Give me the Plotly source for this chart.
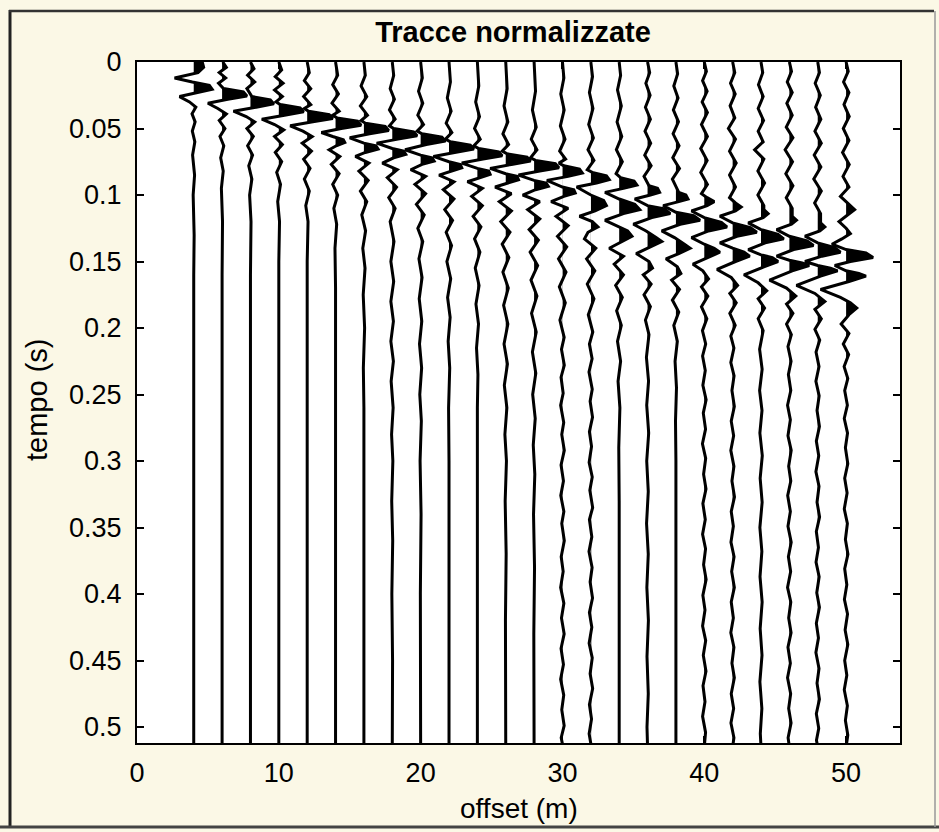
import plotly.graph_objects as go

# ---------------- data ----------------
OFFSETS = [4, 6, 8, 10, 12, 14, 16, 18, 20, 22, 24, 26, 28, 30, 32, 34, 36, 38, 40, 42, 44, 46, 48, 50]

TR04 = [(0.000, 0.60), (0.004, 0.70), (0.008, 0.30), (0.012, -1.35), (0.015, -0.10), (0.0175, 1.10), (0.0205, 1.30),
        (0.023, 0.30), (0.026, -1.00), (0.030, -0.30), (0.034, 0.15), (0.039, -0.12), (0.045, 0.10), (0.052, -0.10),
        (0.060, 0.08), (0.070, -0.08), (0.085, 0.06), (0.100, -0.04), (0.130, 0.03), (0.160, 0.00), (0.515, 0.00)]
TR06 = [(0.000, 0.05), (0.004, 0.30), (0.008, -0.20), (0.012, 0.25), (0.016, -0.25), (0.020, 0.10), (0.0225, 1.50),
        (0.0255, 1.75), (0.028, 0.40), (0.031, -1.00), (0.035, -0.30), (0.039, 0.30), (0.044, -0.20), (0.050, 0.20),
        (0.056, -0.15), (0.063, 0.12), (0.072, -0.10), (0.082, 0.08), (0.095, -0.05), (0.120, 0.03), (0.160, 0.00),
        (0.515, 0.00)]
TR08 = [(0.000, 0.00), (0.005, 0.25), (0.010, -0.20), (0.015, 0.30), (0.020, -0.25), (0.026, 0.10), (0.0285, 1.40),
        (0.0315, 1.65), (0.034, 0.40), (0.037, -1.20), (0.041, -0.30), (0.045, 0.30), (0.050, -0.25), (0.056, 0.20),
        (0.063, -0.20), (0.070, 0.15), (0.078, -0.12), (0.088, 0.10), (0.100, -0.06), (0.120, 0.04), (0.160, 0.00),
        (0.515, 0.00)]
TR10 = [(0.000, 0.00), (0.006, 0.20), (0.011, -0.25), (0.016, 0.30), (0.021, -0.30), (0.026, 0.25), (0.030, -0.20),
        (0.032, 0.10), (0.0345, 1.50), (0.0375, 1.75), (0.040, 0.40), (0.043, -1.20), (0.047, -0.30), (0.051, 0.35),
        (0.056, -0.30), (0.062, 0.25), (0.068, -0.25), (0.075, 0.20), (0.083, -0.15), (0.092, 0.12), (0.105, -0.08),
        (0.120, 0.05), (0.150, 0.00), (0.515, 0.00)]
TR12 = [(0.000, 0.00), (0.008, 0.15), (0.014, -0.20), (0.020, 0.25), (0.026, -0.25), (0.032, 0.25), (0.035, -0.20),
        (0.037, 0.10), (0.0395, 1.55), (0.0425, 1.80), (0.045, 0.40), (0.048, -1.20), (0.052, -0.30), (0.056, 0.35),
        (0.061, -0.35), (0.067, 0.30), (0.073, -0.25), (0.080, 0.20), (0.088, -0.20), (0.097, 0.15), (0.108, -0.10),
        (0.120, 0.06), (0.150, 0.00), (0.515, 0.00)]
TR14 = [(0.000, 0.00), (0.010, 0.15), (0.017, -0.20), (0.024, 0.20), (0.031, -0.25), (0.037, 0.25), (0.040, -0.20),
        (0.042, 0.10), (0.0445, 1.55), (0.0475, 1.80), (0.050, 0.40), (0.053, -1.00), (0.056, -0.20), (0.0585, 0.55),
        (0.0605, 0.65), (0.063, 0.05), (0.066, -0.45), (0.071, 0.30), (0.077, -0.30), (0.084, 0.25), (0.092, -0.20),
        (0.100, 0.15), (0.110, -0.12), (0.122, 0.08), (0.140, -0.04), (0.170, 0.00), (0.515, 0.00)]
TR16 = [(0.000, 0.00), (0.010, 0.10), (0.018, -0.20), (0.026, 0.20), (0.033, -0.25), (0.040, 0.25), (0.044, -0.20),
        (0.046, 0.10), (0.0485, 1.50), (0.0515, 1.75), (0.054, 0.40), (0.057, -1.00), (0.061, 0.00), (0.063, 0.85),
        (0.0655, 1.00), (0.068, 0.10), (0.071, -0.60), (0.076, 0.35), (0.082, -0.35), (0.089, 0.30), (0.097, -0.25),
        (0.105, 0.20), (0.115, -0.15), (0.127, 0.12), (0.140, -0.08), (0.155, 0.08), (0.175, -0.05), (0.200, 0.05),
        (0.230, -0.04), (0.260, 0.00), (0.515, 0.00)]
TR18 = [(0.000, 0.00), (0.010, 0.10), (0.020, -0.15), (0.028, 0.15), (0.036, -0.20), (0.043, 0.20), (0.048, -0.20),
        (0.050, 0.10), (0.0525, 1.50), (0.0555, 1.75), (0.058, 0.40), (0.061, -1.10), (0.065, 0.00), (0.067, 0.80),
        (0.0695, 0.95), (0.072, 0.10), (0.076, -0.70), (0.081, 0.35), (0.087, -0.35), (0.094, 0.30), (0.102, -0.25),
        (0.110, 0.20), (0.120, -0.15), (0.135, 0.12), (0.150, -0.10), (0.165, 0.10), (0.180, -0.10), (0.195, 0.08),
        (0.210, -0.10), (0.225, 0.08), (0.240, -0.08), (0.260, 0.06), (0.280, -0.05), (0.300, 0.04), (0.330, -0.04),
        (0.360, 0.03), (0.400, -0.03), (0.450, 0.02), (0.515, 0.00)]
TR20 = [(0.000, 0.00), (0.012, 0.12), (0.022, -0.15), (0.031, 0.15), (0.040, -0.20), (0.047, 0.20), (0.052, -0.25),
        (0.054, 0.10), (0.0565, 1.50), (0.0595, 1.75), (0.062, 0.40), (0.066, -1.10), (0.070, 0.00), (0.072, 0.80),
        (0.0745, 0.95), (0.077, 0.10), (0.081, -0.70), (0.086, 0.35), (0.092, -0.40), (0.099, 0.35), (0.107, -0.30),
        (0.115, 0.25), (0.125, -0.20), (0.135, 0.15), (0.148, -0.12), (0.162, 0.10), (0.178, -0.10), (0.195, 0.08),
        (0.212, -0.08), (0.230, 0.07), (0.250, -0.06), (0.270, 0.05), (0.300, -0.04), (0.340, 0.03), (0.400, -0.02),
        (0.515, 0.00)]
TR22 = [(0.000, 0.00), (0.015, 0.10), (0.027, -0.12), (0.037, 0.15), (0.046, -0.20), (0.053, 0.20), (0.058, -0.25),
        (0.060, 0.10), (0.0625, 1.50), (0.0655, 1.75), (0.068, 0.40), (0.071, -1.10), (0.075, 0.00), (0.077, 0.80),
        (0.0795, 0.90), (0.082, 0.10), (0.085, -0.70), (0.090, 0.35), (0.096, -0.40), (0.103, 0.35), (0.111, -0.30),
        (0.119, 0.25), (0.128, -0.20), (0.138, 0.18), (0.150, -0.15), (0.163, 0.12), (0.177, -0.10), (0.192, 0.08),
        (0.210, -0.06), (0.230, 0.05), (0.260, -0.03), (0.300, 0.00), (0.515, 0.00)]
TR24 = [(0.000, 0.00), (0.018, 0.10), (0.030, -0.12), (0.041, 0.15), (0.050, -0.20), (0.058, 0.20), (0.063, -0.25),
        (0.065, 0.10), (0.0675, 1.50), (0.0705, 1.75), (0.073, 0.40), (0.076, -1.10), (0.080, 0.00), (0.082, 0.80),
        (0.0845, 0.90), (0.087, 0.10), (0.090, -0.70), (0.095, 0.35), (0.101, -0.40), (0.108, 0.35), (0.116, -0.30),
        (0.124, 0.25), (0.133, -0.20), (0.143, 0.18), (0.155, -0.15), (0.168, 0.12), (0.182, -0.10), (0.197, 0.08),
        (0.215, -0.06), (0.235, 0.04), (0.260, 0.00), (0.515, 0.00)]
TR26 = [(0.000, 0.00), (0.020, 0.10), (0.033, -0.12), (0.045, 0.15), (0.054, -0.20), (0.062, 0.20), (0.067, -0.25),
        (0.069, 0.10), (0.0715, 1.50), (0.0745, 1.75), (0.077, 0.40), (0.080, -1.10), (0.084, 0.00), (0.086, 0.80),
        (0.0885, 0.90), (0.091, 0.10), (0.094, -0.75), (0.099, 0.40), (0.105, -0.45), (0.112, 0.40), (0.120, -0.35),
        (0.128, 0.30), (0.137, -0.25), (0.147, 0.22), (0.158, -0.20), (0.170, 0.18), (0.183, -0.15), (0.197, 0.15),
        (0.212, -0.12), (0.227, 0.12), (0.243, -0.10), (0.260, 0.08), (0.280, -0.06), (0.300, 0.05), (0.330, -0.04),
        (0.370, 0.03), (0.420, -0.02), (0.515, 0.00)]
TR28 = [(0.000, 0.00), (0.022, 0.10), (0.036, -0.12), (0.049, 0.15), (0.058, -0.20), (0.066, 0.20), (0.072, -0.25),
        (0.074, 0.10), (0.0765, 1.50), (0.0795, 1.75), (0.082, 0.40), (0.085, -1.10), (0.089, 0.00), (0.091, 0.85),
        (0.0935, 1.00), (0.096, 0.10), (0.100, -0.80), (0.105, 0.40), (0.111, -0.45), (0.118, 0.40), (0.126, -0.35),
        (0.134, 0.30), (0.143, -0.28), (0.153, 0.25), (0.164, -0.22), (0.176, 0.20), (0.189, -0.18), (0.203, 0.15),
        (0.218, -0.12), (0.234, 0.12), (0.250, -0.10), (0.268, 0.08), (0.288, -0.06), (0.310, 0.05), (0.340, -0.04),
        (0.380, 0.03), (0.430, -0.02), (0.515, 0.00)]
TR30 = [(0.000, 0.00), (0.012, 0.10), (0.024, -0.12), (0.036, 0.12), (0.048, -0.15), (0.058, 0.18), (0.067, -0.20),
        (0.073, 0.22), (0.076, -0.25), (0.078, 0.10), (0.0805, 1.20), (0.0835, 1.40), (0.086, 0.40), (0.089, -1.10),
        (0.094, 0.00), (0.096, 0.80), (0.0985, 0.90), (0.101, 0.10), (0.105, -0.80), (0.110, 0.40), (0.116, -0.45),
        (0.123, 0.40), (0.131, -0.35), (0.139, 0.30), (0.148, -0.28), (0.158, 0.25), (0.169, -0.22), (0.181, 0.20),
        (0.194, -0.18),
        (0.207, 0.12), (0.216, -0.07), (0.228, 0.13), (0.237, -0.10), (0.249, 0.05), (0.258, -0.13), (0.271, 0.09),
        (0.280, -0.05), (0.292, 0.13), (0.303, -0.10), (0.315, 0.07), (0.326, -0.12), (0.338, 0.10), (0.347, -0.05),
        (0.360, 0.13), (0.372, -0.09), (0.383, 0.05), (0.395, -0.13), (0.407, 0.10), (0.418, -0.07), (0.430, 0.12),
        (0.441, -0.10), (0.453, 0.07), (0.464, -0.13), (0.476, 0.09), (0.487, -0.05), (0.499, 0.12), (0.508, -0.09),
        (0.515, 0.04)]
TR32 = [(0.000, 0.00), (0.011, 0.12), (0.023, -0.10), (0.035, 0.15), (0.047, -0.15), (0.057, 0.18), (0.066, -0.20),
        (0.074, 0.22), (0.081, -0.25), (0.083, 0.10), (0.0855, 1.10), (0.0885, 1.30), (0.091, 0.40), (0.094, -1.00),
        (0.100, 0.00), (0.104, 0.90), (0.108, 1.10), (0.112, 0.30), (0.116, -0.80), (0.120, 0.10), (0.124, 0.50),
        (0.128, -0.20), (0.133, -0.45), (0.140, 0.35), (0.148, -0.30), (0.157, 0.28), (0.167, -0.25), (0.178, 0.22),
        (0.190, -0.18), (0.203, 0.14),
        (0.212, -0.10), (0.223, 0.09), (0.233, -0.13), (0.246, 0.10), (0.255, -0.05), (0.267, 0.12), (0.278, -0.10),
        (0.289, 0.05), (0.301, -0.12), (0.312, 0.10), (0.322, -0.07), (0.335, 0.13), (0.344, -0.10), (0.357, 0.07),
        (0.368, -0.13), (0.380, 0.09), (0.391, -0.05), (0.403, 0.12), (0.414, -0.10), (0.425, 0.07), (0.437, -0.12),
        (0.448, 0.10), (0.460, -0.05), (0.471, 0.13), (0.483, -0.10), (0.494, 0.05), (0.505, -0.12), (0.515, 0.04)]
TR34 = [(0.000, 0.00), (0.010, 0.10), (0.021, -0.12), (0.033, 0.15), (0.045, -0.15), (0.056, 0.18), (0.066, -0.20),
        (0.075, 0.22), (0.084, -0.22), (0.087, 0.10), (0.0895, 1.05), (0.0925, 1.25), (0.095, 0.30), (0.098, -1.00),
        (0.103, 0.00), (0.107, 1.10), (0.111, 1.45), (0.114, 0.30), (0.119, -1.00), (0.124, 0.00), (0.127, 0.60),
        (0.131, 0.90), (0.135, 0.20), (0.140, -0.70), (0.146, 0.30), (0.152, -0.35), (0.160, 0.30), (0.168, -0.25),
        (0.177, 0.22), (0.187, -0.18), (0.198, 0.15), (0.210, -0.12), (0.225, 0.10), (0.240, -0.08), (0.260, 0.05),
        (0.290, -0.03), (0.330, 0.00), (0.515, 0.00)]
TR36 = [(0.000, 0.00), (0.008, 0.15), (0.016, -0.12), (0.025, 0.18), (0.034, -0.15), (0.043, 0.20), (0.052, -0.18),
        (0.061, 0.22), (0.070, -0.20), (0.078, 0.25), (0.086, -0.25), (0.093, 0.10), (0.095, 0.70), (0.098, 0.85),
        (0.100, 0.20), (0.103, -0.90), (0.108, 0.00), (0.1105, 1.20), (0.114, 1.60), (0.117, 0.30), (0.122, -1.00),
        (0.127, -0.10), (0.132, 0.60), (0.135, 1.00), (0.139, 0.20), (0.144, -0.80), (0.150, 0.10), (0.155, 0.35),
        (0.160, -0.30), (0.167, 0.25), (0.175, -0.25), (0.184, 0.20), (0.194, -0.15), (0.205, 0.10),
        (0.222, -0.08), (0.240, 0.07), (0.258, -0.06), (0.279, 0.08), (0.300, -0.06), (0.323, 0.05), (0.347, -0.07),
        (0.370, 0.05), (0.395, -0.05), (0.420, 0.06), (0.447, -0.04), (0.475, 0.05), (0.500, -0.04), (0.515, 0.00)]
TR38 = [(0.000, 0.00), (0.009, 0.12), (0.018, -0.15), (0.027, 0.15), (0.036, -0.18), (0.045, 0.18), (0.054, -0.20),
        (0.063, 0.22), (0.072, -0.22), (0.080, 0.25), (0.088, -0.25), (0.096, 0.15), (0.098, 0.20), (0.100, 0.70),
        (0.103, 0.85), (0.105, 0.20), (0.108, -0.90), (0.113, 0.00), (0.1155, 1.25), (0.119, 1.70), (0.122, 0.30),
        (0.127, -1.00), (0.132, -0.10), (0.137, 0.60), (0.140, 1.00), (0.144, 0.20), (0.148, -0.70), (0.154, 0.10),
        (0.159, 0.35), (0.164, -0.30), (0.171, 0.25), (0.179, -0.25), (0.188, 0.20), (0.198, -0.15), (0.210, 0.10),
        (0.225, -0.06), (0.245, 0.04), (0.270, -0.03), (0.300, 0.00), (0.515, 0.00)]
TR40 = [(0.000, 0.00), (0.007, 0.15), (0.014, -0.12), (0.022, 0.20), (0.030, -0.15), (0.038, 0.22), (0.047, -0.20),
        (0.056, 0.22), (0.065, -0.25), (0.074, 0.20), (0.083, -0.25), (0.092, 0.22), (0.099, -0.20), (0.102, 0.20),
        (0.105, 0.70), (0.108, 0.20), (0.112, -0.90), (0.117, 0.00), (0.1205, 1.20), (0.124, 1.60), (0.127, 0.30),
        (0.132, -0.90), (0.137, 0.00), (0.140, 0.70), (0.143, 1.10), (0.147, 0.20), (0.152, -0.80), (0.157, -0.10),
        (0.163, 0.30), (0.169, -0.20), (0.176, 0.25), (0.184, -0.20), (0.193, 0.18), (0.202, -0.13),
        (0.212, 0.10), (0.221, -0.12), (0.232, 0.07), (0.243, -0.10), (0.254, 0.13), (0.264, -0.07), (0.276, 0.09),
        (0.287, -0.13), (0.298, 0.10), (0.310, -0.05), (0.321, 0.12), (0.332, -0.10), (0.344, 0.07), (0.355, -0.12),
        (0.366, 0.09), (0.378, -0.05), (0.389, 0.13), (0.401, -0.10), (0.412, 0.05), (0.424, -0.12), (0.435, 0.10),
        (0.446, -0.07), (0.458, 0.12), (0.469, -0.09), (0.481, 0.05), (0.492, -0.12), (0.504, 0.09), (0.515, 0.00)]
TR42 = [(0.000, 0.00), (0.008, 0.15), (0.016, -0.15), (0.024, 0.18), (0.033, -0.18), (0.042, 0.15), (0.050, -0.30),
        (0.058, 0.20), (0.067, -0.22), (0.076, 0.25), (0.085, -0.22), (0.094, 0.20), (0.102, -0.22), (0.106, 0.20),
        (0.109, 0.60), (0.112, 0.20), (0.116, -0.90), (0.121, 0.00), (0.1245, 1.25), (0.128, 1.70), (0.131, 0.30),
        (0.136, -0.90), (0.140, 0.00), (0.143, 0.80), (0.146, 1.20), (0.150, 0.20), (0.156, -1.10), (0.162, -0.10),
        (0.168, 0.35), (0.174, -0.20), (0.181, 0.25), (0.189, -0.20), (0.198, 0.18), (0.206, -0.13),
        (0.215, 0.09), (0.226, -0.13), (0.236, 0.10), (0.247, -0.05), (0.259, 0.12), (0.270, -0.10), (0.281, 0.07),
        (0.292, -0.13), (0.304, 0.09), (0.315, -0.05), (0.327, 0.13), (0.338, -0.10), (0.349, 0.05), (0.361, -0.12),
        (0.372, 0.10), (0.383, -0.07), (0.395, 0.12), (0.406, -0.10), (0.418, 0.05), (0.429, -0.13), (0.440, 0.09),
        (0.452, -0.05), (0.463, 0.12), (0.475, -0.10), (0.486, 0.07), (0.497, -0.12), (0.508, 0.09), (0.515, 0.00)]
TR44 = [(0.000, 0.00), (0.008, 0.12), (0.017, -0.18), (0.026, 0.15), (0.035, -0.20), (0.044, 0.18), (0.052, -0.20),
        (0.060, 0.15), (0.066, -0.45), (0.073, 0.20), (0.082, -0.22), (0.091, 0.25), (0.100, -0.22), (0.108, 0.20),
        (0.111, 0.20), (0.114, 0.50), (0.117, 0.15), (0.121, -0.90), (0.126, 0.00), (0.1295, 1.20), (0.133, 1.60),
        (0.136, 0.30), (0.141, -0.90), (0.145, 0.00), (0.147, 0.80), (0.150, 1.20), (0.154, 0.20), (0.160, -1.20),
        (0.166, -0.20), (0.172, 0.40), (0.178, -0.20), (0.185, 0.25), (0.193, -0.20), (0.202, 0.15),
        (0.216, -0.10), (0.231, 0.08), (0.247, -0.10), (0.262, 0.07), (0.279, -0.08), (0.296, 0.09), (0.313, -0.06),
        (0.331, 0.08), (0.350, -0.08), (0.368, 0.06), (0.387, -0.07), (0.406, 0.08), (0.426, -0.06), (0.446, 0.07),
        (0.466, -0.08), (0.486, 0.06), (0.505, -0.05), (0.515, 0.00)]
TR46 = [(0.000, 0.00), (0.007, 0.15), (0.015, -0.15), (0.023, 0.20), (0.031, -0.18), (0.040, 0.20), (0.049, -0.22),
        (0.057, 0.25), (0.066, -0.30), (0.075, 0.22), (0.084, -0.25), (0.093, 0.25), (0.102, -0.22), (0.110, 0.20),
        (0.116, 0.20), (0.119, 0.50), (0.122, 0.15), (0.126, -0.90), (0.131, 0.00), (0.1345, 1.25), (0.138, 1.70),
        (0.141, 0.30), (0.146, -0.90), (0.149, 0.00), (0.151, 0.90), (0.153, 1.40), (0.157, 0.20), (0.164, -1.40),
        (0.170, -0.20), (0.176, 0.45), (0.182, -0.20), (0.189, 0.25), (0.197, -0.20), (0.205, 0.14),
        (0.214, -0.10), (0.225, 0.12), (0.235, -0.07), (0.247, 0.10), (0.258, -0.13), (0.269, 0.07), (0.281, -0.10),
        (0.292, 0.13), (0.304, -0.05), (0.315, 0.10), (0.326, -0.12), (0.338, 0.07), (0.349, -0.10), (0.361, 0.13),
        (0.372, -0.07), (0.383, 0.09), (0.395, -0.13), (0.406, 0.10), (0.418, -0.05), (0.429, 0.12), (0.440, -0.10),
        (0.452, 0.07), (0.463, -0.13), (0.475, 0.09), (0.486, -0.05), (0.497, 0.12), (0.508, -0.09), (0.515, 0.00)]
TR48 = [(0.000, 0.00), (0.008, 0.12), (0.016, -0.18), (0.025, 0.18), (0.034, -0.15), (0.043, 0.22), (0.052, -0.20),
        (0.061, 0.25), (0.070, -0.25), (0.079, 0.22), (0.088, -0.28), (0.097, 0.25), (0.106, -0.22), (0.114, 0.20),
        (0.121, 0.20), (0.124, 0.50), (0.127, 0.15), (0.131, -0.90), (0.136, 0.00), (0.1395, 1.20), (0.143, 1.60),
        (0.146, 0.30), (0.150, -0.90), (0.153, 0.00), (0.155, 0.90), (0.157, 1.40), (0.161, 0.20), (0.168, -1.50),
        (0.174, -0.20), (0.180, 0.50), (0.186, -0.20), (0.193, 0.25), (0.201, -0.20), (0.209, 0.14),
        (0.218, -0.12), (0.229, 0.09), (0.240, -0.13), (0.251, 0.10), (0.262, -0.05), (0.274, 0.12), (0.285, -0.10),
        (0.296, 0.07), (0.308, -0.13), (0.319, 0.09), (0.331, -0.05), (0.342, 0.13), (0.353, -0.10), (0.365, 0.05),
        (0.376, -0.12), (0.387, 0.10), (0.399, -0.07), (0.410, 0.12), (0.422, -0.10), (0.433, 0.05), (0.444, -0.13),
        (0.456, 0.09), (0.467, -0.05), (0.479, 0.12), (0.490, -0.10), (0.501, 0.07), (0.510, -0.09), (0.515, 0.00)]
TR50 = [(0.000, 0.00), (0.007, 0.15), (0.015, -0.18), (0.023, 0.20), (0.032, -0.15), (0.041, 0.22), (0.050, -0.20),
        (0.059, 0.20), (0.068, -0.25), (0.077, 0.22), (0.086, -0.22), (0.094, 0.20), (0.101, -0.40), (0.106, 0.10),
        (0.111, 0.60), (0.115, 0.10), (0.120, -0.50), (0.125, 0.00), (0.129, 0.30), (0.133, -0.30), (0.137, -1.00),
        (0.141, 0.00), (0.1435, 1.40), (0.147, 1.90), (0.150, 0.30), (0.153, -0.80), (0.157, 0.00), (0.159, 0.90),
        (0.161, 1.40), (0.165, 0.20), (0.171, -1.80), (0.177, -0.40), (0.181, 0.30), (0.185, 0.75), (0.190, 0.20),
        (0.197, -0.35), (0.204, 0.20), (0.212, -0.20), (0.220, 0.18), (0.229, -0.14),
        (0.238, 0.12), (0.247, -0.10), (0.258, 0.09), (0.268, -0.13), (0.279, 0.10), (0.290, -0.05), (0.302, 0.12),
        (0.313, -0.10), (0.324, 0.07), (0.336, -0.13), (0.347, 0.09), (0.359, -0.05), (0.370, 0.13), (0.381, -0.10),
        (0.393, 0.05), (0.404, -0.12), (0.415, 0.10), (0.427, -0.07), (0.438, 0.12), (0.450, -0.10), (0.461, 0.05),
        (0.472, -0.13), (0.484, 0.09), (0.495, -0.05), (0.506, 0.12), (0.515, 0.00)]

TRACES = [TR04, TR06, TR08, TR10, TR12, TR14, TR16, TR18, TR20, TR22, TR24, TR26,
          TR28, TR30, TR32, TR34, TR36, TR38, TR40, TR42, TR44, TR46, TR48, TR50]

TITLE = "Tracce normalizzate"
XLABEL = "offset (m)"
YLABEL = "tempo (s)"
XTICKS = [0, 10, 20, 30, 40, 50]
YTICKS = [0, 0.05, 0.1, 0.15, 0.2, 0.25, 0.3, 0.35, 0.4, 0.45, 0.5]
YTICKTEXT = ["0", "0.05", "0.1", "0.15", "0.2", "0.25", "0.3", "0.35", "0.4", "0.45", "0.5"]
XRANGE = [0, 53.8]
YRANGE = [0.512, 0]

# ---------------- geometry helpers ----------------
def positive_polygon(off, pts):
    xs, ys = [], []
    prev = None
    for t, a in pts:
        if prev is not None:
            t0, a0 = prev
            if (a0 > 0) != (a > 0) and a != a0:
                tc = t0 + (t - t0) * (0 - a0) / (a - a0)
                xs.append(off)
                ys.append(tc)
        xs.append(off + max(a, 0.0))
        ys.append(t)
        prev = (t, a)
    xs += [off, off]
    ys += [pts[-1][0], pts[0][0]]
    return xs, ys

fill_x, fill_y, line_x, line_y = [], [], [], []
for off, pts in zip(OFFSETS, TRACES):
    px, py = positive_polygon(off, pts)
    fill_x += px + [None]
    fill_y += py + [None]
    line_x += [off + a for _, a in pts] + [None]
    line_y += [t for t, _ in pts] + [None]

fig = go.Figure()
fig.add_trace(go.Scatter(x=fill_x, y=fill_y, mode="lines", fill="toself",
                         fillcolor="black", line=dict(width=0, color="black"),
                         hoverinfo="skip"))
fig.add_trace(go.Scatter(x=line_x, y=line_y, mode="lines",
                         line=dict(width=3, color="black"), hoverinfo="skip"))

W, H = 939, 832
L, R, T, B = 137, 39, 62, 89
PW, PH = W - L - R, H - T - B

def px2x(p):
    return (p - L) / PW

def px2y(q):
    return (H - B - q) / PH

FONT = "Liberation Sans, Arial, Helvetica, sans-serif"

fig.update_layout(
    width=W, height=H,
    margin=dict(l=L, r=R, t=T, b=B, pad=0),
    paper_bgcolor="#fbf8e6",
    plot_bgcolor="white",
    showlegend=False,
    font=dict(family=FONT, color="black", size=27),
    title=dict(text="<b>" + TITLE + "</b>", x=px2x(513), xref="paper", xanchor="center",
               y=1 - 32 / H, yref="container", yanchor="middle",
               font=dict(family=FONT, size=29, color="black")),
    xaxis=dict(range=XRANGE, tickmode="array", tickvals=XTICKS,
               ticks="inside", ticklen=7, tickwidth=1.5, tickcolor="black",
               showline=True, linecolor="black", linewidth=2, mirror="ticks",
               showgrid=False, zeroline=False, tickfont=dict(size=27),
               ticklabelstandoff=5),
    yaxis=dict(range=YRANGE, tickmode="array", tickvals=YTICKS, ticktext=YTICKTEXT,
               ticks="inside", ticklen=7, tickwidth=1.5, tickcolor="black",
               showline=True, linecolor="black", linewidth=2, mirror="ticks",
               showgrid=False, zeroline=False, tickfont=dict(size=27),
               ticklabelstandoff=8),
    annotations=[
        dict(text=XLABEL, x=0.5, y=px2y(808), xref="paper", yref="paper",
             xanchor="center", yanchor="middle", showarrow=False, font=dict(size=28)),
        dict(text=YLABEL, x=px2x(37), y=px2y(400), xref="paper", yref="paper",
             xanchor="center", yanchor="middle", textangle=-90, showarrow=False,
             font=dict(size=29)),
    ],
    shapes=[
        dict(type="line", xref="paper", yref="paper", x0=px2x(10), x1=px2x(10),
             y0=px2y(10), y1=px2y(828), line=dict(color="#222222", width=3)),
        dict(type="line", xref="paper", yref="paper", x0=px2x(9), x1=px2x(934),
             y0=px2y(11), y1=px2y(11), line=dict(color="#333333", width=2.5)),
        dict(type="line", xref="paper", yref="paper", x0=px2x(0), x1=px2x(939),
             y0=px2y(827), y1=px2y(827), line=dict(color="#444444", width=3)),
        dict(type="line", xref="paper", yref="paper", x0=px2x(935), x1=px2x(935),
             y0=px2y(11), y1=px2y(827), line=dict(color="#999999", width=1.5)),
    ],
)

fig.write_html("out.html")
